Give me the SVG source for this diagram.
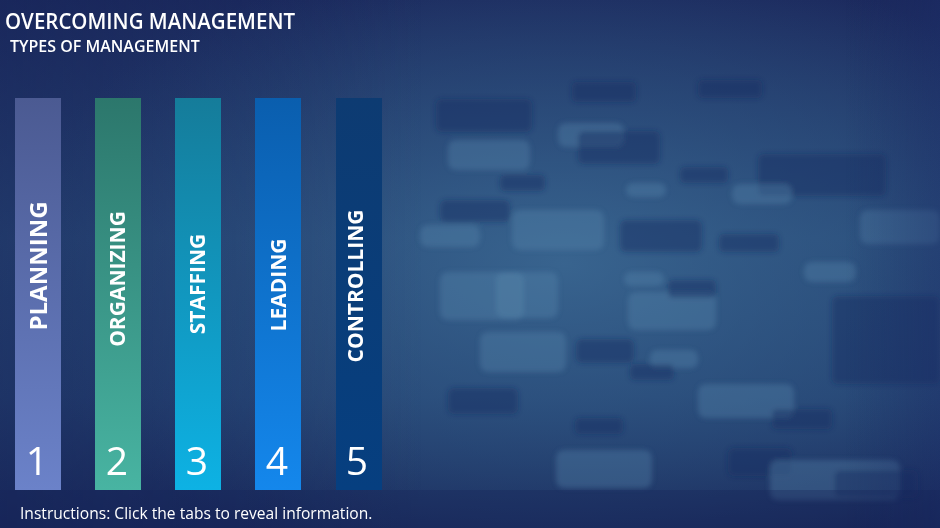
<svg xmlns="http://www.w3.org/2000/svg" width="940" height="528" viewBox="0 0 940 528">
<defs>
<linearGradient id="bgv" x1="0" y1="0" x2="0" y2="1">
<stop offset="0" stop-color="#1c2a5e"/>
<stop offset="0.45" stop-color="#2b4c7a"/>
<stop offset="0.75" stop-color="#254272"/>
<stop offset="1" stop-color="#19285a"/>
</linearGradient>
<radialGradient id="bgr" cx="0.6" cy="0.5" r="0.6">
<stop offset="0" stop-color="#3c6a94" stop-opacity="0.8"/>
<stop offset="0.6" stop-color="#305a86" stop-opacity="0.4"/>
<stop offset="1" stop-color="#2f5884" stop-opacity="0"/>
</radialGradient>
<linearGradient id="leftdark" x1="0" y1="0" x2="1" y2="0">
<stop offset="0" stop-color="#17255a" stop-opacity="0.5"/>
<stop offset="0.45" stop-color="#17255a" stop-opacity="0"/>
<stop offset="0.9" stop-color="#17255a" stop-opacity="0"/>
<stop offset="1" stop-color="#1a2a66" stop-opacity="0.4"/>
</linearGradient>
<filter id="blur" x="-20%" y="-50%" width="140%" height="200%"><feGaussianBlur stdDeviation="2.5"/></filter>
<linearGradient id="g1" x1="0" y1="0" x2="0" y2="1"><stop offset="0" stop-color="#4b5a92"/><stop offset="1" stop-color="#6b82c9"/></linearGradient>
<linearGradient id="g2" x1="0" y1="0" x2="0" y2="1"><stop offset="0" stop-color="#2c776c"/><stop offset="1" stop-color="#48b4a2"/></linearGradient>
<linearGradient id="g3" x1="0" y1="0" x2="0" y2="1"><stop offset="0" stop-color="#157c9a"/><stop offset="1" stop-color="#0db2e4"/></linearGradient>
<linearGradient id="g4" x1="0" y1="0" x2="0" y2="1"><stop offset="0" stop-color="#0a5eae"/><stop offset="1" stop-color="#1487ec"/></linearGradient>
<linearGradient id="g5" x1="0" y1="0" x2="0" y2="1"><stop offset="0" stop-color="#0d3b72"/><stop offset="1" stop-color="#063f80"/></linearGradient>
</defs>
<style>
.lbl{font-family:"Open Sans","DejaVu Sans",sans-serif;font-weight:700;font-size:21px;fill:#ffffff;text-anchor:middle}
.num{font-family:"Open Sans","DejaVu Sans",sans-serif;font-weight:400;font-size:39px;fill:#ffffff;text-anchor:middle}
.lt{fill:#5a8ab0;opacity:0.35}
.dk{fill:#1a2e62;opacity:0.45}
</style>
<rect width="940" height="528" fill="url(#bgv)"/>
<rect width="940" height="528" fill="url(#bgr)"/>
<g filter="url(#blur)">
<rect class="dk" x="436" y="99" width="96" height="33" rx="6"/>
<rect class="dk" x="572" y="82" width="64" height="20" rx="5"/>
<rect class="dk" x="698" y="80" width="64" height="18" rx="5"/>
<rect class="lt" x="558" y="123" width="66" height="24" rx="8"/>
<rect class="dk" x="578" y="131" width="82" height="33" rx="6"/>
<rect class="lt" x="448" y="140" width="82" height="30" rx="8"/>
<rect class="dk" x="758" y="154" width="128" height="42" rx="6"/>
<rect class="dk" x="500" y="175" width="45" height="16" rx="5"/>
<rect class="lt" x="626" y="183" width="40" height="14" rx="7"/>
<rect class="dk" x="680" y="167" width="48" height="16" rx="5"/>
<rect class="lt" x="732" y="184" width="60" height="20" rx="8"/>
<rect class="lt" x="860" y="210" width="80" height="34" rx="8"/>
<rect class="lt" x="512" y="210" width="92" height="40" rx="8"/>
<rect class="dk" x="620" y="220" width="82" height="32" rx="6"/>
<rect class="lt" x="420" y="225" width="60" height="22" rx="8"/>
<rect class="dk" x="440" y="200" width="70" height="22" rx="6"/>
<rect class="lt" x="804" y="262" width="52" height="20" rx="8"/>
<rect class="dk" x="719" y="234" width="60" height="18" rx="5"/>
<rect class="lt" x="440" y="272" width="84" height="48" rx="8"/>
<rect class="lt" x="496" y="272" width="62" height="46" rx="8"/>
<rect class="lt" x="628" y="292" width="88" height="38" rx="8"/>
<rect class="dk" x="668" y="280" width="48" height="18" rx="5"/>
<rect class="lt" x="624" y="272" width="40" height="14" rx="7"/>
<rect class="dk" x="832" y="296" width="108" height="88" rx="6"/>
<rect class="lt" x="480" y="332" width="86" height="40" rx="8"/>
<rect class="dk" x="576" y="339" width="58" height="24" rx="6"/>
<rect class="lt" x="650" y="350" width="48" height="18" rx="7"/>
<rect class="dk" x="630" y="364" width="44" height="16" rx="5"/>
<rect class="lt" x="698" y="384" width="96" height="34" rx="8"/>
<rect class="dk" x="448" y="388" width="70" height="26" rx="6"/>
<rect class="dk" x="575" y="418" width="48" height="16" rx="5"/>
<rect class="dk" x="772" y="409" width="60" height="20" rx="5"/>
<rect class="lt" x="556" y="450" width="96" height="38" rx="8"/>
<rect class="dk" x="728" y="448" width="64" height="28" rx="6"/>
<rect class="lt" x="770" y="460" width="130" height="40" rx="8"/>
<rect class="dk" x="834" y="470" width="84" height="28" rx="6"/>
</g>
<rect width="940" height="528" fill="url(#leftdark)"/>
<rect x="0" y="490" width="940" height="38" fill="#17245a" opacity="0.35"/>
<g id="title">
<text x="5" y="29" font-family="'Open Sans','DejaVu Sans',sans-serif" font-weight="600" font-size="21.5" fill="#ffffff" textLength="290" lengthAdjust="spacingAndGlyphs">OVERCOMING MANAGEMENT</text>
<text x="10" y="52" font-family="'Open Sans','DejaVu Sans',sans-serif" font-weight="600" font-size="16" fill="#ffffff">TYPES OF MANAGEMENT</text>
</g>
<g id="tab-planning">
<rect x="15" y="98" width="46" height="392" fill="url(#g1)"/>
<text class="lbl" style="font-size:24px" transform="translate(47 266) rotate(-90)">PLANNING</text>
<text class="num" x="37" y="475">1</text>
</g>
<g id="tab-organizing">
<rect x="95" y="98" width="46" height="392" fill="url(#g2)"/>
<text class="lbl" transform="translate(125 279) rotate(-90)">ORGANIZING</text>
<text class="num" x="117" y="475">2</text>
</g>
<g id="tab-staffing">
<rect x="175" y="98" width="46" height="392" fill="url(#g3)"/>
<text class="lbl" transform="translate(205 284) rotate(-90)">STAFFING</text>
<text class="num" x="197" y="475">3</text>
</g>
<g id="tab-leading">
<rect x="255" y="98" width="46" height="392" fill="url(#g4)"/>
<text class="lbl" transform="translate(286 285) rotate(-90)">LEADING</text>
<text class="num" x="277" y="475">4</text>
</g>
<g id="tab-controlling">
<rect x="336" y="98" width="46" height="392" fill="url(#g5)"/>
<text class="lbl" transform="translate(363 286) rotate(-90)">CONTROLLING</text>
<text class="num" x="357" y="475">5</text>
</g>
<g id="connectors"/>
<text id="instructions" x="20" y="519" font-family="'Open Sans','DejaVu Sans',sans-serif" font-size="15.6" fill="#ffffff">Instructions: Click the tabs to reveal information.</text>
</svg>
